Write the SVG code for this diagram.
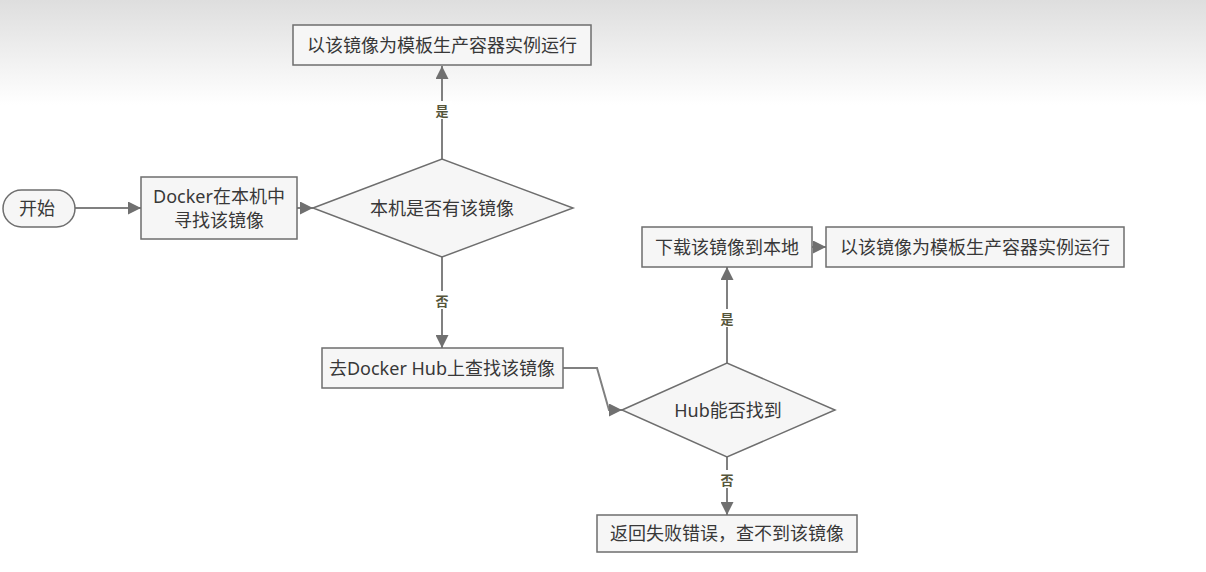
<svg xmlns="http://www.w3.org/2000/svg" width="1206" height="572" viewBox="0 0 1206 572">
<style>
.box{fill:#f6f6f6;stroke:#6e6e6e;stroke-width:1.5}
.t{font-family:"Noto Sans","Noto Sans CJK SC",sans-serif;font-size:18px;fill:#383838;text-anchor:middle;dominant-baseline:central}
.lbl{font-family:"Noto Sans CJK SC",sans-serif;font-size:13px;font-weight:bold;fill:#55553a;text-anchor:middle;dominant-baseline:central}
.c{fill:none;stroke:#808080;stroke-width:2}
</style>
<defs>
<linearGradient id="bg" x1="0" y1="0" x2="0" y2="1">
<stop offset="0" stop-color="#dedede"/>
<stop offset="1" stop-color="#ffffff"/>
</linearGradient>
<marker id="ah" viewBox="0 0 10 10" refX="10" refY="5" markerWidth="6.5" markerHeight="6.5" markerUnits="strokeWidth" orient="auto">
<path d="M0,0 L10,5 L0,10 z" fill="#707070"/>
</marker>
</defs>
<rect x="0" y="0" width="1206" height="572" fill="#ffffff"/>
<rect x="0" y="0" width="1206" height="105" fill="url(#bg)"/>

<g id="connectors">
<path class="c" d="M75,208 L141,208" marker-end="url(#ah)"/>
<path class="c" d="M297,208 L313,208" marker-end="url(#ah)"/>
<path class="c" d="M442,159 L442,66" marker-end="url(#ah)"/>
<path class="c" d="M442,257 L442,348" marker-end="url(#ah)"/>
<path class="c" d="M563,368 L597,368 L609,410 L622,410" marker-end="url(#ah)"/>
<path class="c" d="M727,363 L727,267" marker-end="url(#ah)"/>
<path class="c" d="M812,247 L826,247" marker-end="url(#ah)"/>
<path class="c" d="M727,457 L727,515" marker-end="url(#ah)"/>
<rect x="432" y="101" width="20" height="18" fill="#ffffff"/>
<text class="lbl" x="442" y="110">是</text>
<rect x="432" y="291" width="20" height="18" fill="#ffffff"/>
<text class="lbl" x="442" y="300">否</text>
<rect x="717" y="309" width="20" height="18" fill="#ffffff"/>
<text class="lbl" x="727" y="318">是</text>
<rect x="717" y="470" width="20" height="18" fill="#ffffff"/>
<text class="lbl" x="727" y="479">否</text>
</g>

<g id="start">
<rect class="box" x="3" y="190" width="72" height="37" rx="18.5"/>
<text class="t" x="37" y="208">开始</text>
</g>
<g id="search-local">
<rect class="box" x="141" y="177" width="156" height="62"/>
<text class="t" x="219" y="196">Docker在本机中</text>
<text class="t" x="219" y="220">寻找该镜像</text>
</g>
<g id="has-local">
<path class="box" d="M313,208 L442,159 L573,208 L442,257 z"/>
<text class="t" x="442" y="208">本机是否有该镜像</text>
</g>
<g id="run-local">
<rect class="box" x="293" y="25" width="298" height="40"/>
<text class="t" x="442" y="45">以该镜像为模板生产容器实例运行</text>
</g>
<g id="search-hub">
<rect class="box" x="322" y="348" width="241" height="40"/>
<text class="t" x="442" y="368">去Docker Hub上查找该镜像</text>
</g>
<g id="hub-found">
<path class="box" d="M622,410 L727,363 L835,410 L727,457 z"/>
<text class="t" x="728" y="410">Hub能否找到</text>
</g>
<g id="download">
<rect class="box" x="642" y="227" width="170" height="40"/>
<text class="t" x="727" y="247">下载该镜像到本地</text>
</g>
<g id="run-hub">
<rect class="box" x="826" y="227" width="298" height="40"/>
<text class="t" x="975" y="247">以该镜像为模板生产容器实例运行</text>
</g>
<g id="error">
<rect class="box" x="597" y="515" width="260" height="37"/>
<text class="t" x="727" y="533">返回失败错误，查不到该镜像</text>
</g>
</svg>
